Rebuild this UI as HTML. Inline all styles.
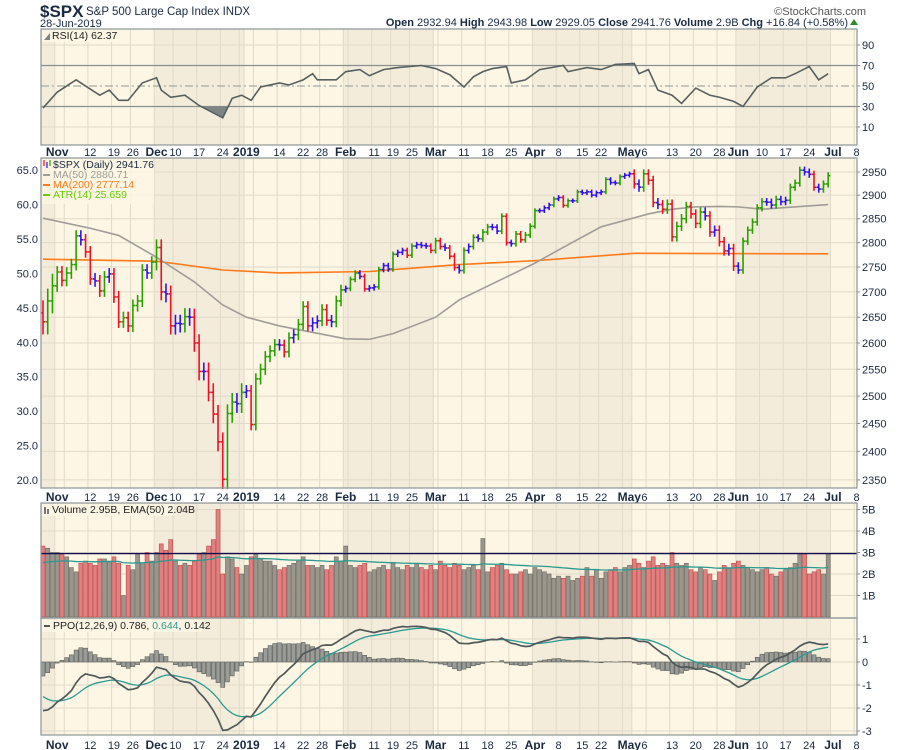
<!DOCTYPE html>
<html><head><meta charset="utf-8">
<style>
html,body{margin:0;padding:0;background:#fff;}
svg{display:block;font-family:"Liberation Sans",sans-serif;}
</style></head>
<body>
<svg id="chart" width="900" height="750" viewBox="0 0 900 750">
  <g id="bands"></g>
  <g id="grid"></g>
  <g id="layer"></g>
  <g id="axes"></g>
  <g id="header">
    <text x="40" y="17" font-size="17" font-weight="bold" fill="#1a2a40">$SPX</text>
    <text x="86" y="15" font-size="11.5" fill="#1a2a40">S&amp;P 500 Large Cap Index  INDX</text>
    <text x="40" y="27" font-size="11" fill="#1a2a40">28-Jun-2019</text>
    <text x="866" y="15" font-size="11" fill="#555" text-anchor="end">©StockCharts.com</text>
    <text x="848" y="26" font-size="11" fill="#1a2a40" text-anchor="end"><tspan font-weight="bold">Open</tspan> 2932.94  <tspan font-weight="bold">High</tspan> 2943.98  <tspan font-weight="bold">Low</tspan> 2929.05  <tspan font-weight="bold">Close</tspan> 2941.76  <tspan font-weight="bold">Volume</tspan> 2.9B  <tspan font-weight="bold">Chg</tspan> +16.84 (+0.58%)</text>
    <polygon points="850,25 858,25 854,19" fill="#2a8a2a"/>
  </g>
</svg>
<script>
// ---------- DATA ----------
const closes = [
2641,2682,2712,
2740,2723,2738,2755,2814,2806,2781,2726,2722,2702,2730,2736,2690,2641,2649,2633,2673,2682,2744,2738,2760,
2790,2700,2696,2633,2638,2637,2651,2650,2600,2546,2546,2507,2467,2417,2351,2468,2489,2486,2507,
2510,2448,2532,2550,2574,2585,2597,2596,2583,2610,2616,2636,2671,2633,2639,2643,2665,2644,2641,2682,2704,
2707,2725,2738,2731,2706,2708,2710,2745,2753,2746,2776,2780,2784,2774,2793,2796,2794,2793,2784,
2804,2792,2789,2772,2749,2743,2784,2792,2811,2808,2822,2833,2832,2824,2855,2800,2798,2818,2806,2816,2834,
2867,2867,2873,2879,2892,2895,2878,2888,2888,2907,2905,2907,2900,2905,2907,2934,2927,2926,2940,2943,2946,
2924,2917,2946,2932,2884,2880,2870,2881,2812,2834,2850,2876,2860,2840,2864,2856,2822,2826,2802,2783,2788,2752,
2744,2803,2826,2843,2873,2886,2885,2879,2891,2886,2889,2917,2926,2954,2950,2945,2917,2913,2924,2942];
const prevClose0 = 2658.69;
const monthStarts = [0,3,24,43,64,83,104,125,147,167];
const monthRanges = [70,34,48,30,16,18,14,28,22];
const volumes = [
3.3,3.2,3.0,
3.0,2.9,2.8,2.3,2.1,2.5,2.6,2.5,2.4,2.7,2.7,2.6,2.8,2.5,1.0,2.4,2.2,2.9,2.5,3.0,2.6,
3.0,3.4,3.1,3.6,2.6,2.4,2.5,2.4,2.6,2.9,3.0,3.3,3.6,5.0,2.0,2.8,2.7,2.3,2.0,
2.4,2.8,2.9,2.7,2.6,2.6,2.4,2.2,2.3,2.4,2.5,2.6,2.8,2.4,2.4,2.3,2.4,2.2,2.4,2.8,2.6,
3.3,2.4,2.3,2.4,2.5,2.1,2.2,2.3,2.4,2.2,2.5,2.3,2.2,2.4,2.3,2.5,2.3,2.2,2.4,
2.2,2.6,2.4,2.3,2.5,2.4,2.2,2.3,2.4,2.2,3.65,2.1,2.3,2.4,2.5,2.2,2.0,2.0,2.1,2.2,2.0,
2.3,2.2,2.1,2.0,1.8,1.9,1.8,1.9,1.7,1.8,1.9,2.3,1.9,2.2,1.8,2.1,2.2,2.3,2.1,2.3,2.4,
2.7,2.5,2.3,2.6,2.8,2.4,2.5,2.4,3.0,2.5,2.4,2.5,2.2,2.1,2.3,2.2,2.0,1.7,2.1,2.4,2.3,2.5,
2.6,2.4,2.3,2.2,2.1,2.2,2.3,2.0,1.9,2.1,2.2,2.3,2.5,2.9,2.95,2.0,2.1,2.2,2.0,2.95];
const ma50Idx = [0,10,16,24,32,38,43,50,64,69,74,83,88,104,109,118,128,133,138,143,147,152,166];
const ma50Val = [2851,2830,2815,2770,2720,2674,2650,2633,2608,2607,2618,2650,2684,2758,2785,2833,2860,2870,2875,2876,2875,2870,2880];
const ma200Idx = [0,24,38,50,69,88,104,125,166];
const ma200Val = [2766,2762,2744,2738,2741,2755,2763,2778,2777];
const rsiIdx = [0,3,7,11,12,14,16,18,21,24,25,27,30,33,38,40,42,44,46,50,52,55,57,58,62,64,67,69,72,75,80,83,86,89,91,93,95,98,99,102,105,110,111,115,118,121,125,126,128,130,133,135,138,141,143,146,148,151,154,157,159,162,164,166];
const rsiVal = [28.5,44,56,44,41,46,36,36,53,58,46,39,41,31,19,38,41,36,49,53,51,56,62,56,56,64,66,60,66,68,70,67,61,49,59,64,67,69,53,56,66,70,64,68,66,71,72,62,66,46,41,33,48,41,39,35,30,49,58,58,62,69,56,62];
const ppoSeed = {ema12:2740, ema26:2795, signal:-1.35};
const monthNames = ["Nov","Dec","2019","Feb","Mar","Apr","May","Jun","Jul"];
const monthLabelIdx = [3,24,43,64,83,104,125,147,167];
const mondayIdx = [10,15,19,28,33,38,50,55,59,70,74,78,89,94,99,109,114,118,128,133,138,143,152,157,162,172];
const mondayLbl = ["12","19","26","10","17","24","14","22","28","11","19","25","11","18","25","8","15","22","6","13","20","28","10","17","24","8"];
const gridIdx = [3,5,10,15,19,24,28,33,38,42,43,45,50,55,59,64,65,70,74,78,83,84,89,94,99,104,109,114,118,123,125,128,133,138,143,147,152,157,162,167,172];
const priceTicks = [2350,2400,2450,2500,2550,2600,2650,2700,2750,2800,2850,2900,2950];
const leftTicks = [20,25,30,35,40,45,50,55,60,65];
const rsiTicks = [10,30,50,70,90];
const volTicks = [1,2,3,4,5];
const ppoTicks = [-3,-2,-1,0,1];

// ---------- SCALES ----------
const L=41,R=857;
const P={top:158,bot:488}, RS={top:29,bot:145}, V={top:503,bot:618}, M={top:618,bot:735};
const xI = i => 43 + i*4.73;
const yP = v => 172 + (Math.log(2950)-Math.log(v))*1354;
const yL = v => 170 + (65-v)*6.89;
const yR = v => 86 - (v-50)*1.025;
const yV = v => 617 - v*21.5;
const yM = v => 662 - v*23;
const NS="http://www.w3.org/2000/svg";
function mk(tag, attrs, parent){const e=document.createElementNS(NS,tag);for(const k in attrs)e.setAttribute(k,attrs[k]);parent.appendChild(e);return e;}
const bands=document.getElementById('bands'), grid=document.getElementById('grid'), layer=document.getElementById('layer'), axes=document.getElementById('axes');
const panels=[RS,P,V,M];
const LIGHT="#fdf6e4", SHADE="#f4ecdb", GRID="#e2dac8";

panels.forEach(pn=>{
  const bg=mk('rect',{x:L,y:pn.top,width:R-L,height:pn.bot-pn.top,fill:LIGHT},bands);
  
  
  for(let m=0;m<monthStarts.length;m+=2){
    const x0=Math.max(L,xI(monthStarts[m])-2.4);
    const x1=m+1<monthStarts.length?xI(monthStarts[m+1])-2.4:R;
    const b=mk('rect',{x:x0,y:pn.top,width:Math.min(x1,R)-x0,height:pn.bot-pn.top,fill:SHADE},bands);
    
    
  }
  gridIdx.forEach(i=>{const x=xI(i)-2.4; if(x<R) mk('line',{x1:x,x2:x,y1:pn.top,y2:pn.bot,stroke:GRID,'stroke-width':1},grid);});
});
priceTicks.forEach(v=>mk('line',{x1:L,x2:R,y1:yP(v),y2:yP(v),stroke:GRID},grid));
[10,90].forEach(v=>mk('line',{x1:L,x2:R,y1:yR(v),y2:yR(v),stroke:GRID},grid));
volTicks.forEach(v=>mk('line',{x1:L,x2:R,y1:yV(v),y2:yV(v),stroke:GRID},grid));
ppoTicks.forEach(v=>mk('line',{x1:L,x2:R,y1:yM(v),y2:yM(v),stroke:GRID},grid));

[152,497,745].forEach(ya=>{
  const ax=mk('g',{},axes);
  
  
  monthLabelIdx.forEach((i,m)=>{
    const t=mk('text',{x:xI(i)-(monthNames[m]==='May'?5:0),y:ya+4,'font-size':12,'font-weight':'bold','text-anchor':'middle',fill:'#1a2a40'},ax);
    t.textContent=monthNames[m];
    
    
  });
  mondayIdx.forEach((i,j)=>{
    const t=mk('text',{x:xI(i)-(mondayLbl[j]==='6'?4:0),y:ya+4,'font-size':11,'text-anchor':'middle',fill:'#1a2a40'},ax);
    t.textContent=mondayLbl[j];
    
    
  });
});

function rlab(txt,y,name){const t=mk('text',{x:862,y:y+4,'font-size':11,fill:'#1a2a40'},axes);t.textContent=txt;
  mk('line',{x1:R,x2:R+3,y1:y,y2:y,stroke:'#888'},axes);}
priceTicks.forEach(v=>rlab(String(v),yP(v),'price-tick-label'));
rsiTicks.forEach(v=>rlab(String(v),yR(v),'rsi-tick-label'));
volTicks.forEach(v=>rlab(v+'B',yV(v),'volume-tick-label'));
ppoTicks.forEach(v=>rlab(String(v),yM(v),'ppo-tick-label'));
leftTicks.forEach(v=>{const t=mk('text',{x:38,y:yL(v)+4,'font-size':11,'text-anchor':'end',fill:'#1a2a40'},axes);t.textContent=v.toFixed(1);
  
  });

// ---------- RSI ----------
const rsiG=mk('g',{},layer);


[70,30].forEach(v=>mk('line',{x1:L,x2:R,y1:yR(v),y2:yR(v),stroke:'#8a9090','stroke-width':1.2},rsiG));
mk('line',{x1:L,x2:R,y1:yR(50),y2:yR(50),stroke:'#8a9a9a','stroke-dasharray':'8,3,2,3'},rsiG);
let rpts=rsiIdx.map((i,k)=>[xI(i),yR(rsiVal[k])]);
const clip30=mk('clipPath',{id:'below30'},rsiG); mk('rect',{x:L,y:yR(30),width:R-L,height:RS.bot-yR(30)},clip30);
const clip70=mk('clipPath',{id:'above70'},rsiG); mk('rect',{x:L,y:RS.top,width:R-L,height:yR(70)-RS.top},clip70);
const areaD='M'+rpts.map(p=>p.join(',')).join(' L');
const f1=mk('path',{d:areaD+` L${rpts[rpts.length-1][0]},${yR(30)} L${rpts[0][0]},${yR(30)} Z`,fill:'#7c8484','clip-path':'url(#below30)'},rsiG);


const f2=mk('path',{d:areaD+` L${rpts[rpts.length-1][0]},${yR(70)} L${rpts[0][0]},${yR(70)} Z`,fill:'#7c8484','clip-path':'url(#above70)'},rsiG);


const rl=mk('polyline',{points:rpts.map(p=>p.join(',')).join(' '),fill:'none',stroke:'#58605f','stroke-width':1.6},rsiG);


mk('rect',{x:42,y:30,width:80,height:12,fill:'#fdf6e4',opacity:0.9},rsiG);
mk('polygon',{points:'44,40 50,33 50,40',fill:'#7c8484'},rsiG);
const rt=mk('text',{x:52,y:39,'font-size':10.5,fill:'#222'},rsiG); rt.textContent='RSI(14) 62.37';



// ---------- PRICE ----------
const pg=mk('g',{},layer);


const m200=mk('polyline',{points:ma200Idx.map((i,k)=>xI(i)+','+yP(ma200Val[k])).join(' '),fill:'none',stroke:'#ff7a1a','stroke-width':1.6},pg);


const m50=mk('polyline',{points:ma50Idx.map((i,k)=>xI(i)+','+yP(ma50Val[k])).join(' '),fill:'none',stroke:'#a09c98','stroke-width':1.6},pg);


function monthOf(i){let m=0;for(let k=0;k<monthStarts.length;k++)if(i>=monthStarts[k])m=k;return Math.min(m,monthRanges.length-1);}
closes.forEach((c,i)=>{
  const o=i===0?prevClose0:closes[i-1];
  const r=monthRanges[monthOf(i)];
  const hi=Math.max(o,c)+r*0.35, lo=Math.min(o,c)-r*0.35;
  const ch=(c-o)/o;
  const col=ch>0.003?'#2aa000':(ch<-0.003?'#ee1122':'#3311ee');
  const x=xI(i);
  const g=mk('g',{stroke:col,'stroke-width':1.6},pg);
  
  
  mk('line',{x1:x,x2:x,y1:yP(hi),y2:yP(lo)},g);
  mk('line',{x1:x-2.2,x2:x,y1:yP(o),y2:yP(o)},g);
  mk('line',{x1:x,x2:x+2.2,y1:yP(c),y2:yP(c)},g);
});
const lg=mk('g',{},pg);


mk('rect',{x:42,y:159,width:112,height:45,fill:'#fdf6e4',opacity:0.85},lg);
[['$SPX (Daily) 2941.76','#1a2a40'],['MA(50) 2880.71','#a09c98'],['MA(200) 2777.14','#ff7a1a'],['ATR(14) 25.659','#66cc00']].forEach((e,k)=>{
  const y=168+k*10;
  if(k>0) mk('line',{x1:43,x2:50,y1:y-3,y2:y-3,stroke:e[1],'stroke-width':2},lg);
  else { mk('line',{x1:44,x2:44,y1:y-8,y2:y-2,stroke:'#ee1122','stroke-width':1.2},lg); mk('line',{x1:47,x2:47,y1:y-6,y2:y,stroke:'#3311ee','stroke-width':1.2},lg); mk('line',{x1:50,x2:50,y1:y-8,y2:y-2,stroke:'#2aa000','stroke-width':1.2},lg);}
  const t=mk('text',{x:53,y:y,'font-size':10.5,fill:e[1]},lg); t.textContent=e[0];
  
  
});

// ---------- VOLUME ----------
const vg=mk('g',{},layer);


volumes.forEach((v,i)=>{
  const o=i===0?prevClose0:closes[i-1];
  const up=closes[i]>=o;
  const b=mk('rect',{x:xI(i)-2,y:yV(v),width:4,height:yV(0)-yV(v),fill:up?'#9a968c':'#e08080',stroke:up?'#6e6a62':'#c04848','stroke-width':0.6},vg);
  
  
});
let ema=2.5; const k50=2/51; const vpts=[];
volumes.forEach((v,i)=>{ema=v*k50+ema*(1-k50);vpts.push(xI(i)+','+yV(ema));});
const ve=mk('polyline',{points:vpts.join(' '),fill:'none',stroke:'#2a9a90','stroke-width':1.3},vg);


const hl=mk('line',{x1:L,x2:R,y1:yV(volumes[volumes.length-1]),y2:yV(volumes[volumes.length-1]),stroke:'#101050','stroke-width':1.4},vg);


mk('rect',{x:42,y:504,width:132,height:12,fill:'#fdf6e4',opacity:0.9},vg);
const vt=mk('text',{x:52,y:513,'font-size':10.5,fill:'#222'},vg); vt.textContent='Volume 2.95B, EMA(50) 2.04B';


mk('rect',{x:44,y:507,width:2,height:7,fill:'#777'},vg);mk('rect',{x:47,y:509,width:2,height:5,fill:'#777'},vg);

// ---------- PPO ----------
const mg=mk('g',{},layer);


let e12=ppoSeed.ema12,e26=ppoSeed.ema26,sig=ppoSeed.signal;
const ppo=[],sg=[];
closes.forEach(c=>{e12=c*2/13+e12*11/13;e26=c*2/27+e26*25/27;const p=(e12-e26)/e26*100;sig=p*0.2+sig*0.8;ppo.push(p);sg.push(sig);});
ppo.forEach((p,i)=>{
  const h=p-sg[i];
  const b=mk('rect',{x:xI(i)-2,y:Math.min(yM(h),yM(0)),width:4,height:Math.abs(yM(h)-yM(0)),fill:'#9a9c98',stroke:'#5a5c58','stroke-width':0.6},mg);
  
  
});
const sl=mk('polyline',{points:sg.map((v,i)=>xI(i)+','+yM(v)).join(' '),fill:'none',stroke:'#2a9a90','stroke-width':1.3},mg);


const pl=mk('polyline',{points:ppo.map((v,i)=>xI(i)+','+yM(v)).join(' '),fill:'none',stroke:'#50585a','stroke-width':1.7},mg);


mk('rect',{x:42,y:620,width:160,height:12,fill:'#fdf6e4',opacity:0.9},mg);
mk('line',{x1:44,x2:50,y1:626,y2:626,stroke:'#50585a','stroke-width':2},mg);
const pt=mk('text',{x:53,y:629,'font-size':10.5,fill:'#222'},mg);
pt.innerHTML='PPO(12,26,9) 0.786, <tspan fill="#2a9a90">0.644</tspan>, 0.142';



panels.forEach(pn=>{const b=mk('rect',{x:L,y:pn.top,width:R-L,height:pn.bot-pn.top,fill:'none',stroke:'#8c9496','stroke-width':1.2},axes);
  
  });
</script>
</body></html>
